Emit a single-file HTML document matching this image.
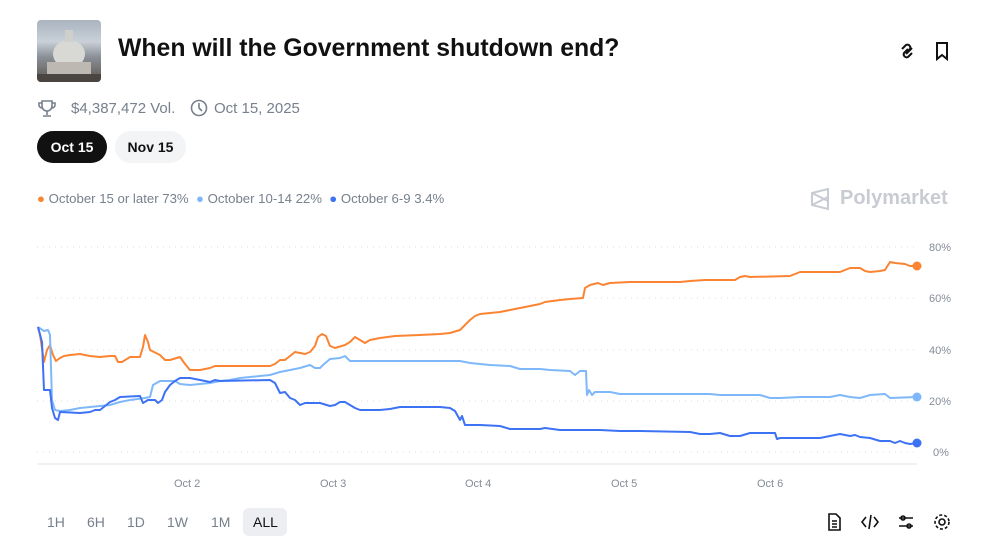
<!DOCTYPE html>
<html><head><meta charset="utf-8"><style>
body{margin:0;width:985px;height:544px;background:#fff;font-family:"Liberation Sans",sans-serif;position:relative;overflow:hidden}
.a{position:absolute;white-space:nowrap}
.g{color:#77808d}
</style></head><body>
<div class="a" style="left:37px;top:20px;width:64px;height:62px;border-radius:4px;background:linear-gradient(#a9b4bf 0%,#c9d0d8 35%,#8a8f96 60%,#5a5550 100%);overflow:hidden">
<svg width="64" height="62"><ellipse cx="32" cy="34" rx="16" ry="14" fill="#d8d8d4"/><rect x="28" y="10" width="8" height="12" fill="#cfcfcb"/><rect x="10" y="42" width="44" height="14" fill="#bdb9b2"/><rect x="0" y="54" width="64" height="8" fill="#4a4540"/></svg></div>
<div class="a" style="left:118px;top:35px;font-size:24.8px;font-weight:bold;color:#111">When will the Government shutdown end?</div>
<svg class="a" style="left:897px;top:40px" width="60" height="22" fill="none" stroke="#111" stroke-width="2"><path d="M4 9 l4-4 a3 3 0 0 1 4 4 l-4 4 M14 13 l-4 4 a3 3 0 0 1-4-4 l4-4 M8 14 l6-6" transform="translate(1,0)"/><path d="M40 3 h10 v16 l-5-4 -5 4z"/></svg>
<svg class="a" style="left:37px;top:99px" width="20" height="20" fill="none" stroke="#77808d" stroke-width="1.6"><path d="M5 2h10v5a5 5 0 0 1-10 0z M5 4H2v2a3 3 0 0 0 3 3 M15 4h3v2a3 3 0 0 1-3 3 M10 12v4 M6 17h8"/></svg>
<div class="a g" style="left:71px;top:100px;font-size:15px">$4,387,472 Vol.</div>
<svg class="a" style="left:190px;top:99px" width="18" height="18" fill="none" stroke="#77808d" stroke-width="1.6"><circle cx="9" cy="9" r="7.5"/><path d="M9 4v5l3 3"/></svg>
<div class="a g" style="left:214px;top:100px;font-size:15px">Oct 15, 2025</div>
<div class="a" style="left:37px;top:131px;width:70px;height:32px;border-radius:16px;background:#111;color:#fff;font-weight:bold;font-size:14px;line-height:32px;text-align:center">Oct 15</div>
<div class="a" style="left:115px;top:131px;width:71px;height:32px;border-radius:16px;background:#f3f4f6;color:#111;font-weight:bold;font-size:14px;line-height:32px;text-align:center">Nov 15</div>
<div class="a g" style="left:37px;top:191px;font-size:13.2px"><span style="color:#fb8433">●</span> October 15 or later 73% &nbsp;<span style="color:#7fb8fa">●</span> October 10-14 22% &nbsp;<span style="color:#3d72f5">●</span> October 6-9 3.4%</div>
<svg class="a" style="left:809px;top:187px" width="24" height="24" fill="none" stroke="#c8ccd2" stroke-width="2"><path d="M3 6l16-4v20L3 18z M3 6l16 8 M3 18l16-8"/></svg>
<div class="a" style="left:840px;top:187px;font-size:20px;font-weight:bold;color:#c8ccd2">Polymarket</div>
<svg class="a" style="left:0;top:0" width="985" height="544">
<g stroke="#d8dce0" stroke-dasharray="1 5" stroke-width="1">
<line x1="37" x2="917" y1="247" y2="247"/><line x1="37" x2="917" y1="298" y2="298"/><line x1="37" x2="917" y1="350" y2="350"/><line x1="37" x2="917" y1="401" y2="401"/><line x1="37" x2="917" y1="452" y2="452"/></g>
<line x1="37" x2="917" y1="464" y2="464" stroke="#e3e5e8"/>
<g font-size="11" fill="#858c96" font-family="Liberation Sans"><text x="929" y="251">80%</text><text x="929" y="302">60%</text><text x="929" y="354">40%</text><text x="929" y="405">20%</text><text x="933" y="456">0%</text>
<text x="174" y="487">Oct 2</text><text x="320" y="487">Oct 3</text><text x="465" y="487">Oct 4</text><text x="611" y="487">Oct 5</text><text x="757" y="487">Oct 6</text></g>
<g fill="none" stroke-width="2" stroke-linejoin="round">
<polyline stroke="#fb8433" points="38,327 40,335 44,362 47,350 50,345 53,355 56,361 60,358 64,356 70,355 80,354 90,356 100,357 110,356 115,356 118,362 122,362 130,357 140,357 143,347 145,335 148,342 150,350 160,355 165,360 170,360 180,357 185,364 190,370 200,370 210,368 215,366 260,366 270,366 275,364 280,360 285,360 290,356 295,352 305,354 310,352 315,346 318,337 322,334 326,336 330,346 335,348 345,345 350,342 355,337 360,340 365,343 370,340 380,338 395,336 420,335 440,334 450,333 460,330 465,325 470,320 475,316 480,314 490,313 500,312 510,310 520,308 530,306 540,304 545,302 560,300 570,299 583,298 585,288 590,285 598,283 603,285 610,283 630,282 680,282 690,281 705,280 735,280 740,277 745,276 750,277 790,276 800,272 840,272 850,268 860,268 865,271 870,272 880,271 885,270 890,262 895,263 905,264 910,266 917,266"/>
<polyline stroke="#7fb8fa" points="38,327 44,331 48,330 50,335 52,400 55,410 60,411 70,410 80,408 90,407 100,406 110,405 120,402 130,400 145,398 150,397 153,385 160,381 175,381 180,384 190,385 200,384 210,383 220,381 230,380 240,378 250,377 260,376 270,375 280,372 290,370 300,368 310,365 315,368 320,368 323,365 330,359 340,358 345,356 350,361 460,361 470,363 480,364 490,365 510,366 520,369 540,369 550,370 570,371 575,375 580,371 586,371 587,395 589,390 592,395 595,392 610,392 620,394 710,394 720,395 760,395 770,398 780,398 800,397 830,397 840,395 850,397 860,398 870,395 885,394 890,398 917,397"/>
<polyline stroke="#3d72f5" points="38,327 42,342 44,390 50,390 52,408 55,418 58,420 60,412 80,413 90,412 95,410 100,410 105,406 110,402 115,400 120,397 140,396 143,403 148,400 155,400 158,403 162,400 165,392 170,385 175,381 180,378 190,378 200,380 210,382 215,380 220,381 270,380 275,383 280,393 285,392 290,398 295,400 300,405 305,403 320,403 330,406 335,405 340,402 345,402 350,405 355,408 360,410 380,410 390,409 400,407 440,407 450,408 455,411 460,420 462,416 465,425 480,425 500,426 510,429 540,429 545,428 560,430 600,430 620,431 640,431 690,432 700,434 710,434 720,433 730,436 740,436 750,433 775,433 777,439 780,438 820,438 830,436 840,434 850,436 855,435 860,437 870,438 880,441 890,441 895,443 900,441 905,443 910,444 917,443"/>
</g>
<circle cx="917" cy="266" r="4.5" fill="#fb8433"/><circle cx="917" cy="397" r="4.5" fill="#7fb8fa"/><circle cx="917" cy="443" r="4.5" fill="#3d72f5"/>
</svg>
<div class="a" style="left:243px;top:508px;width:44px;height:28px;border-radius:6px;background:#eceef1"></div>
<div class="a g" style="left:47px;top:514px;font-size:14px;word-spacing:0"><span style="position:absolute;left:0">1H</span><span style="position:absolute;left:40px">6H</span><span style="position:absolute;left:80px">1D</span><span style="position:absolute;left:120px">1W</span><span style="position:absolute;left:164px">1M</span><span style="position:absolute;left:206px;color:#111">ALL</span></div>
<svg class="a" style="left:826px;top:512px" width="130" height="20" fill="none" stroke="#111" stroke-width="1.6"><path d="M3 2h7l4 4v12H3z M6 9h5 M6 12h5 M6 15h5"/><path d="M40 5l-4 5 4 5 M48 5l4 5-4 5 M45 3l-2 14"/><path d="M73 6h14 M73 14h14"/><circle cx="77" cy="6" r="2"/><circle cx="83" cy="14" r="2"/><circle cx="116" cy="10" r="3"/><circle cx="116" cy="10" r="7" stroke-dasharray="3 2"/></svg>
</body></html>
